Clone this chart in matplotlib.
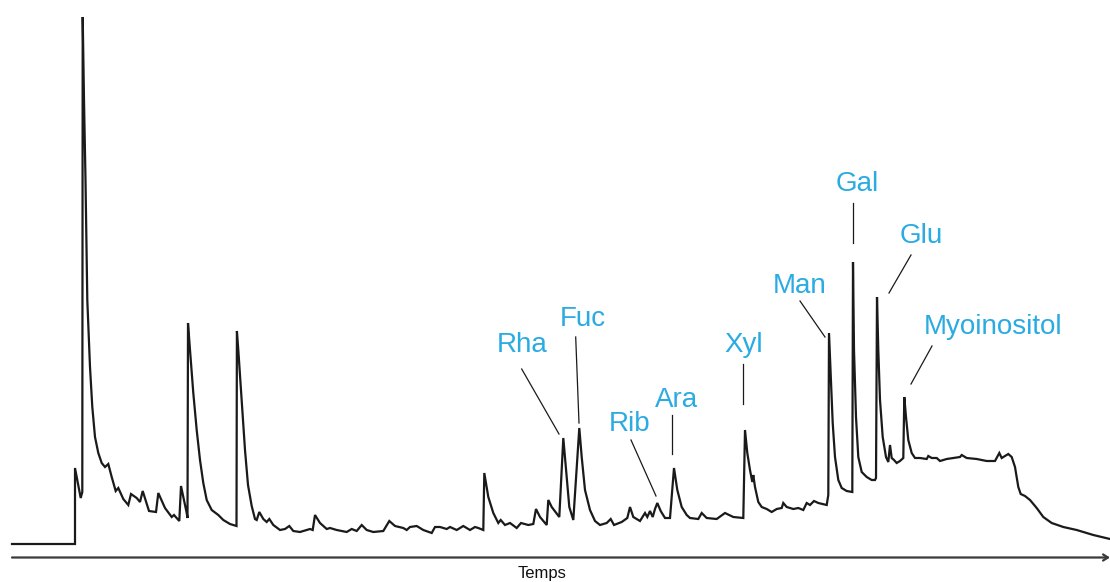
import numpy as np
import matplotlib.pyplot as plt

plt.rcParams['font.family'] = ['Liberation Sans', 'DejaVu Sans']

# chromatogram trace (time and signal in arbitrary units)
t = [12, 75, 75, 80.7, 82.3, 82.7, 84, 85.5, 87.3, 90, 92.3, 95, 98.3, 101.7, 105, 108.3,
     111.7, 115.7, 118.3, 123.3, 128.3, 131, 136.7, 140, 142.7, 149, 156, 158.3, 165, 171.7,
     174, 179.3, 181, 186.7, 187.5, 188, 190, 193.3, 196.7, 200, 203.3, 206.7, 211.7, 218.3,
     223.3, 230, 236.5, 236.9, 238.3, 241.7, 245, 248, 251.7, 255, 256.7, 259.3, 263.3, 266.7,
     269.3, 273.3, 280, 285, 289.3, 293.3, 300,
     310, 312.7, 315, 320, 326.7, 330, 336.7, 346.7, 351.7, 356.7, 361.7, 366.7, 373.3, 383.3,
     389.3, 395, 403.3, 406.7, 410, 416.7, 423.3, 431.7, 435, 440, 446.7, 450,
     456.7, 463.3, 470, 475, 478.3, 483.3, 484.3, 488.3, 493.3, 498.3, 500.7, 505, 510, 516.7,
     521, 528.3, 533.3, 536, 540, 546.7, 548.3, 551.7, 559.3, 563.3, 566.7, 569.3, 573.3, 579.3,
     581.7, 585, 590, 595, 600, 606.7, 610.7, 614, 621.7, 627.3, 630, 633.3, 640, 645, 647.3,
     650, 652.7, 655, 657.3, 660.7, 665, 670, 674, 677.3, 681.7, 686.7, 690, 698.3, 701.7, 706.7,
     716.7, 725, 733.3, 743.3,
     745, 747.3, 750, 752.3, 753.3, 755, 758.3, 761.7, 766.7, 771.7, 776.7, 781.7, 783.3, 786.7,
     793.3, 798.3, 803.3, 806.7, 810, 814, 818.3, 826.7, 828.3, 829, 831, 832.7, 835, 838.3,
     841.7, 846.7, 852.3, 853, 854, 856, 858.3, 861.7, 866.7, 871.7, 875, 876, 877, 878.3, 880,
     882.7, 886, 888.3, 890, 891.7, 894, 896.7, 900, 903.3, 904.3, 906, 908.3, 911.7, 915, 920,
     926.7, 928.3, 931.7, 936.7, 940, 946.7, 953.3, 960, 961.7, 966.7, 976.7, 986.7, 995, 999.3,
     1001.7, 1005, 1008.3, 1011.7, 1015, 1018.3, 1020.7, 1025, 1030, 1036.7, 1043.3, 1051.7,
     1063.3, 1076.7, 1093.3, 1110]

signal = [0, 0, 76, 46, 52, 527, 444, 364, 244, 177, 137, 107, 91, 81, 77, 80,
          67, 53, 56, 45, 39, 50, 46, 42, 53, 33, 32, 51, 36, 27,
          29, 23, 58, 31, 26, 221, 194, 151, 114, 84, 61, 44, 34, 29,
          24, 20, 18, 213, 194, 144, 94, 59, 38, 25, 24, 32, 25, 22,
          25, 19, 14, 15, 18, 13, 12,
          15, 14, 29, 21, 15, 16, 14, 12, 15, 13, 19, 14, 12, 13,
          23, 18, 16, 14, 17, 18, 14, 11, 17, 17, 15, 17,
          14, 18, 14, 17, 16, 14, 71, 47, 31, 21, 24, 19, 21, 16,
          21, 19, 20, 35, 27, 19, 44, 37, 27, 106, 67, 37, 24, 116,
          87, 54, 34, 23, 19, 21, 25, 19, 22, 26, 37, 27, 23, 31, 27,
          33, 27, 35, 41, 33, 26, 26, 76, 54, 37, 29, 26, 25, 31, 26,
          25, 31, 27, 26,
          114, 91, 74, 62, 69, 57, 42, 37, 35, 32, 35, 36, 41, 37,
          35, 36, 34, 41, 39, 43, 41, 39, 49, 211, 161, 121, 87, 64,
          56, 53, 52, 282, 194, 127, 87, 72, 67, 64, 64, 66, 247, 194, 144,
          107, 87, 82, 99, 86, 84, 81, 83, 86, 147, 127, 104, 91, 86, 86,
          85, 88, 86, 86, 83, 85, 86, 87, 89, 86, 85, 83, 83, 91,
          86, 88, 90, 87, 77, 57, 50, 48, 44, 36, 27, 21,
          17, 14, 9, 5]

# peak labels
names = ['Rha', 'Fuc', 'Rib', 'Ara', 'Xyl', 'Man', 'Gal', 'Glu', 'Myoinositol']
label_x = [522, 583, 630, 676.5, 744, 799.5, 857, 921, 993]
label_y = [192, 218, 113, 137, 192, 251, 353, 301, 210]
# leader lines: start (under the label) and end (near the peak)
lead_x0 = [521.7, 575.7, 631, 672, 743, 800, 853, 911, 932]
lead_y0 = [175, 207, 104, 129, 180, 243, 341, 289, 198]
lead_x1 = [559, 579, 656, 672, 743, 825, 853, 889, 911]
lead_y1 = [110, 121, 48, 90, 140, 207, 301, 251, 160]

blue = '#2AABE2'

fig = plt.figure(figsize=(11.1, 5.82), dpi=100)
ax = fig.add_axes([0, 0, 1, 1])
ax.set_xlim(0, 1110)
ax.set_ylim(-38, 544)
ax.axis('off')

ax.plot(t, signal, color='#1a1a1a', lw=1.6, solid_joinstyle='miter')

for i in range(len(names)):
    ax.plot([lead_x0[i], lead_x1[i]], [lead_y0[i], lead_y1[i]], color='#1a1a1a', lw=0.9)
    ax.text(label_x[i], label_y[i], names[i], color=blue, fontsize=20,
            ha='center', va='baseline')

# time axis with arrow
ax.annotate('', xy=(1110, -13.5), xytext=(12, -13.5),
            arrowprops=dict(arrowstyle='->,head_length=0.35,head_width=0.22',
                            color='#3a3a3a', lw=1.6, shrinkA=0, shrinkB=0),
            annotation_clip=False)
ax.text(542, -34, 'Temps', fontsize=12, ha='center', va='baseline', color='#111111')

fig.savefig('out.png', dpi=100)
